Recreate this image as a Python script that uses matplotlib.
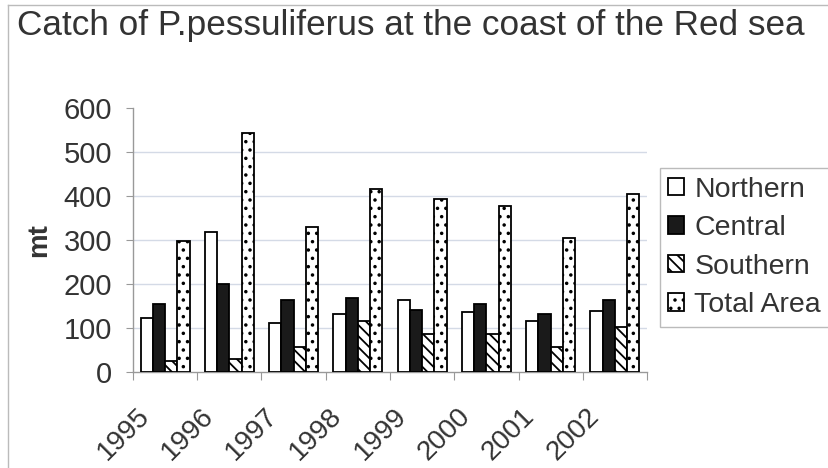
import numpy as np
import matplotlib
matplotlib.use("Agg")
import matplotlib.pyplot as plt
from matplotlib.lines import Line2D

plt.rcParams['font.family'] = ['Liberation Sans', 'DejaVu Sans']
plt.rcParams['hatch.linewidth'] = 1.3

# data (mt)
years = ['1995', '1996', '1997', '1998', '1999', '2000', '2001', '2002']
northern = [122, 318, 112, 131, 163, 135, 116, 139]
central = [155, 199, 163, 167, 140, 155, 131, 163]
southern = [24, 28, 56, 116, 87, 87, 56, 102]
total_area = [297, 545, 330, 417, 393, 377, 305, 404]

series = [
    ('Northern', northern, 'white', ''),
    ('Central', central, '#1a1a1a', ''),
    ('Southern', southern, 'white', '\\\\\\'),
    ('Total Area', total_area, 'white', '..'),
]

fig = plt.figure(figsize=(8.29, 4.68), dpi=100)
ax = fig.add_axes([0.1604, 0.2058, 0.6201, 0.5626])

x = np.arange(len(years))
w = 0.19
handles = []
for i, (name, vals, color, hatch) in enumerate(series):
    bars = ax.bar(x - 1.5 * w + i * w, vals, w, color=color, edgecolor='black',
                  linewidth=1.3, hatch=hatch, label=name, zorder=3)
    handles.append(bars)

ax.set_xlim(-0.5, len(years) - 0.5)
ax.set_ylim(0, 600)
ax.set_yticks(range(0, 601, 100))
ax.tick_params(axis='y', labelsize=21, colors='#999999', labelcolor='#333333',
               direction='out', length=5, pad=10)
ax.set_xticks(np.arange(-0.5, len(years), 1.0))
ax.set_xticklabels([])
ax.tick_params(axis='x', colors='#999999', direction='out', length=6)
for xi, yr in zip(x, years):
    ax.text(xi - 0.45, -0.12, yr, transform=ax.get_xaxis_transform(),
            rotation=45, ha='right', va='top', rotation_mode='anchor',
            fontsize=20, color='#333333')

for v in range(100, 600, 100):
    ax.axhline(v, color='#d4dae6', linewidth=1.0, zorder=1)

for s in ['top', 'right']:
    ax.spines[s].set_visible(False)
for s in ['left', 'bottom']:
    ax.spines[s].set_color('#999999')
    ax.spines[s].set_linewidth(1.0)

ax.set_ylabel('mt', fontsize=20, fontweight='bold', color='#333333', labelpad=8)

fig.text(0.02, 0.925, 'Catch of P.pessuliferus at the coast of the Red sea',
         fontsize=25.3, color='#333333', ha='left', va='baseline')

leg = fig.legend(handles=handles, loc='upper left', bbox_to_anchor=(0.796, 0.641),
                 fontsize=20.5, frameon=True, fancybox=False, edgecolor='#aaaaaa',
                 handlelength=0.56, handleheight=0.56, handletextpad=0.35,
                 labelspacing=0.44, borderpad=0.3, borderaxespad=0,
                 labelcolor='#333333')
leg.get_frame().set_linewidth(1.0)

# scan border
fig.add_artist(Line2D([0.01, 0.01], [0.0, 0.99], color='#bbbbbb', lw=1,
                      transform=fig.transFigure))
fig.add_artist(Line2D([0.01, 1.0], [0.99, 0.99], color='#bbbbbb', lw=1,
                      transform=fig.transFigure))

fig.savefig('out.png', dpi=100)
